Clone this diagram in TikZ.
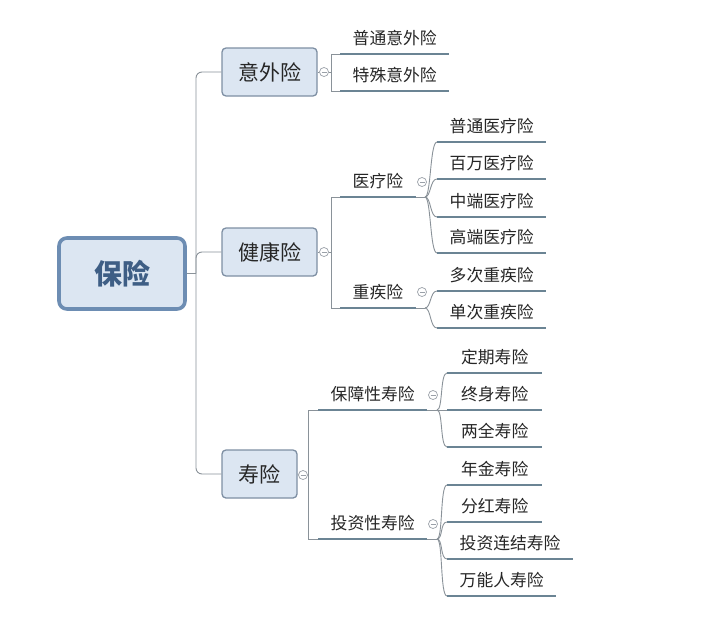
\documentclass[tikz,border=0pt]{standalone}
\usepackage{fontspec}
\setmainfont{Noto Sans CJK SC}
\definecolor{conncol}{HTML}{8A9299}
\definecolor{ulinecol}{HTML}{6B8494}
\definecolor{boxfill}{HTML}{DCE6F2}
\definecolor{boxline}{HTML}{7E8FA3}
\definecolor{rootline}{HTML}{6D8DB3}
\definecolor{roottext}{HTML}{3E5E85}
\definecolor{textcol}{HTML}{262626}
\definecolor{foldcol}{HTML}{9AA0A8}

\begin{document}
\begin{tikzpicture}[x=1pt,y=-1pt,
    conn/.style={draw=conncol,line width=0.9pt},
    uline/.style={draw=ulinecol,line width=2.8pt},
    topic/.style={anchor=south west,inner xsep=12.5pt,inner ysep=6.2pt,text height=12.5pt,text depth=3.5pt,font=\fontsize{16.8}{18}\selectfont,text=textcol},
    wide/.style={minimum width=95pt},
    box/.style={rectangle,rounded corners=4pt,draw=boxline,line width=1.3pt,fill=boxfill,minimum height=48pt,inner xsep=16pt,font=\fontsize{21}{24}\selectfont,text=textcol},
    rootbox/.style={rectangle,rounded corners=8pt,draw=rootline,line width=3.6pt,fill=boxfill,minimum width=126pt,minimum height=71pt,font=\fontsize{28}{32}\selectfont\bfseries,text=roottext},
    fold/.style={circle,draw=foldcol,line width=0.7pt,fill=white,minimum size=9pt,inner sep=0pt,
      path picture={\draw[foldcol,line width=0.7pt] ([xshift=-2.5pt]path picture bounding box.center) -- ([xshift=2.5pt]path picture bounding box.center);}}]
        \useasboundingbox (0,0) rectangle (720,621);
        \fill[white] (0,0) rectangle (720,621);
        % root and main branches
        \node[rootbox] (ins) at (122,273.5) {保险};
        \node[box,minimum width=95pt] (acc) at (269.5,72) {意外险};
        \node[box,minimum width=95pt] (hlth) at (269.5,252) {健康险};
        \node[box,minimum width=75pt] (life) at (259.5,474) {寿险};
        \coordinate (trunk) at (196,273.5);
        \draw[conn] (ins.east) -- (trunk);
        \draw[conn,rounded corners=6pt] (trunk) |- (acc.west);
        \draw[conn,rounded corners=6pt] (trunk) |- (hlth.west);
        \draw[conn,rounded corners=6pt] (trunk) |- (life.west);
        % 意外险
        \node[topic] (acc1) at (340,54) {普通意外险};
        \node[topic] (acc2) at (340,91) {特殊意外险};
        \node[fold] (facc) at (324,72) {};
        \coordinate (jacc) at (331,72);
        \draw[conn] (acc.east) -- (facc);
        \draw[conn] (facc) -- (jacc);
        \draw[conn] (jacc) |- (acc1.south west);
        \draw[conn] (jacc) |- (acc2.south west);
        % 健康险
        \node[topic] (med) at (340,197) {医疗险};
        \node[topic] (crit) at (340,308) {重疾险};
        \node[fold] (fhlth) at (324,252) {};
        \coordinate (jhlth) at (331,252);
        \draw[conn] (hlth.east) -- (fhlth);
        \draw[conn] (fhlth) -- (jhlth);
        \draw[conn] (jhlth) |- (med.south west);
        \draw[conn] (jhlth) |- (crit.south west);
        \node[fold] (fmed) at (422,182) {};
        \node[fold] (fcrit) at (422,292) {};
        \node[topic] (med1) at (437,142) {普通医疗险};
        \node[topic] (med2) at (437,179) {百万医疗险};
        \node[topic] (med3) at (437,217) {中端医疗险};
        \node[topic] (med4) at (437,253) {高端医疗险};
        \node[topic] (crit1) at (437,291) {多次重疾险};
        \node[topic] (crit2) at (437,328) {单次重疾险};
        \coordinate (omed) at (425,197);
        \coordinate (ocrit) at (425,308);
        \draw[conn] (med.south east) -- (omed);
        \draw[conn] (crit.south east) -- (ocrit);
        \draw[conn] (omed) .. controls +(6,0) and +(-7,0) .. (med1.south west);
        \draw[conn] (omed) .. controls +(6,0) and +(-7,0) .. (med2.south west);
        \draw[conn] (omed) .. controls +(6,0) and +(-7,0) .. (med3.south west);
        \draw[conn] (omed) .. controls +(6,0) and +(-7,0) .. (med4.south west);
        \draw[conn] (ocrit) .. controls +(6,0) and +(-7,0) .. (crit1.south west);
        \draw[conn] (ocrit) .. controls +(6,0) and +(-7,0) .. (crit2.south west);
        % 寿险
        \node[topic] (prot) at (318,410) {保障性寿险};
        \node[topic] (inv) at (318,539) {投资性寿险};
        \node[fold] (flife) at (303,475) {};
        \coordinate (jlife) at (308,475);
        \draw[conn] (life.east) -- (flife);
        \draw[conn] (flife) -- (jlife);
        \draw[conn] (jlife) |- (prot.south west);
        \draw[conn] (jlife) |- (inv.south west);
        \node[fold] (fprot) at (433,395) {};
        \node[fold] (finv) at (433,524) {};
        \node[topic,wide] (prot1) at (447,373) {定期寿险};
        \node[topic,wide] (prot2) at (447,410) {终身寿险};
        \node[topic,wide] (prot3) at (447,447) {两全寿险};
        \node[topic,wide] (inv1) at (447,485) {年金寿险};
        \node[topic,wide] (inv2) at (447,522) {分红寿险};
        \node[topic,wide] (inv3) at (447,559) {投资连结寿险};
        \node[topic,wide] (inv4) at (447,596) {万能人寿险};
        \coordinate (oprot) at (437,410);
        \coordinate (oinv) at (437,539);
        \draw[conn] (prot.south east) -- (oprot);
        \draw[conn] (inv.south east) -- (oinv);
        \draw[conn] (oprot) .. controls +(6,0) and +(-7,0) .. (prot1.south west);
        \draw[conn] (oprot) -- (prot2.south west);
        \draw[conn] (oprot) .. controls +(6,0) and +(-7,0) .. (prot3.south west);
        \draw[conn] (oinv) .. controls +(6,0) and +(-7,0) .. (inv1.south west);
        \draw[conn] (oinv) .. controls +(6,0) and +(-7,0) .. (inv2.south west);
        \draw[conn] (oinv) .. controls +(6,0) and +(-7,0) .. (inv3.south west);
        \draw[conn] (oinv) .. controls +(6,0) and +(-7,0) .. (inv4.south west);
        % underlines
        \foreach \n in {acc1,acc2,med,crit,med1,med2,med3,med4,crit1,crit2,prot,inv,prot1,prot2,prot3,inv1,inv2,inv3,inv4}
          \draw[uline] (\n.south west) -- (\n.south east);
      \end{tikzpicture}
\end{document}
